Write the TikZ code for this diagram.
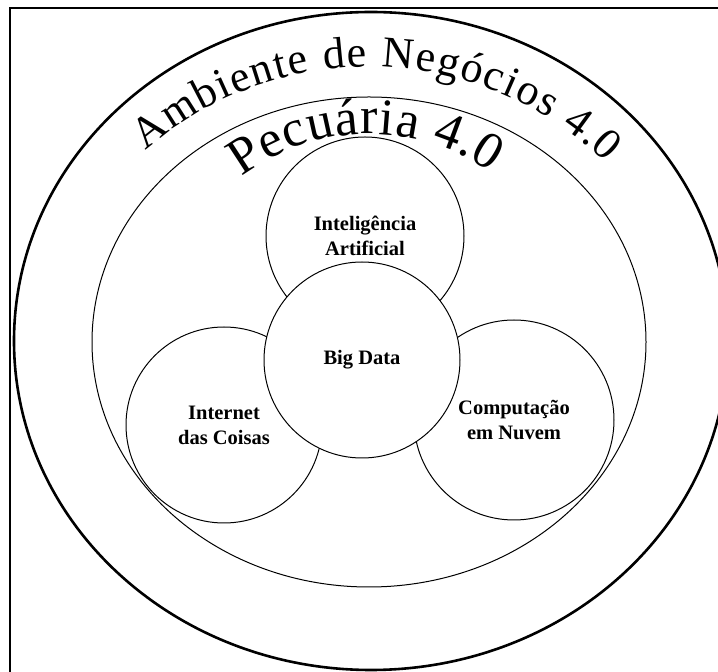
\documentclass[tikz,border=0pt]{standalone}
\usepackage{fontspec}
\setmainfont{Liberation Serif}
\usetikzlibrary{decorations.text}
\tikzset{
    bubble/.style={circle, draw, line width=1pt, inner sep=0pt, align=center,
        font=\bfseries\fontsize{20.5}{25}\selectfont},
    ring/.style={draw, line width=1pt},
}
\begin{document}
\begin{tikzpicture}[x=1pt, y=1pt]
    \useasboundingbox (0,0) rectangle (718,672);
    \clip (0,0) rectangle (718,672);

            %%draw the frame and the rings
            \draw[line width=1.8pt] (10,-20) rectangle (740,664);
            \draw[ring, line width=2.6pt] (371,331) ellipse [x radius=357, y radius=329];
            \draw[ring] (369,330) ellipse [x radius=277, y radius=245];

            %%curved titles
            \path[decorate, decoration={text along path, text align=fit to path,
                text={|\fontsize{44}{50}\selectfont|Ambiente de Negócios 4.0}}]
                (369,264) ++(131:341) arc[start angle=131, end angle=46, radius=341];
            \path[decorate, decoration={text along path, text align=fit to path,
                text={|\fontsize{52}{60}\selectfont|Pecuária 4.0}}]
                (369,326) ++(127:212) arc[start angle=127, end angle=55, radius=212];

            %%draw the circles
            \node[bubble, minimum size=198pt] (ia) at (365,436) {Inteligência\\Artificial};
            \node[bubble, minimum size=196pt] (iot) at (224,247) {Internet\\das Coisas};
            \node[bubble, minimum size=200pt] (nuvem) at (514,252) {Computação\\em Nuvem};
            \node[bubble, minimum size=196pt, fill=white] (bigdata) at (362,312) {Big Data};
        \end{tikzpicture}
\end{document}
